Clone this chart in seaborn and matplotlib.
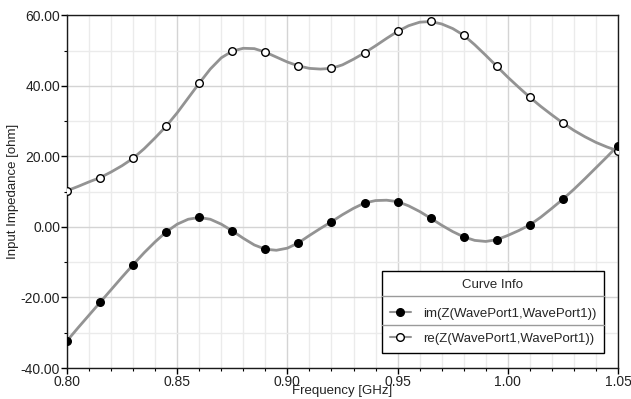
import numpy as np
import pandas as pd
import matplotlib
matplotlib.use("Agg")
import matplotlib.pyplot as plt
from matplotlib.lines import Line2D
from matplotlib.ticker import MultipleLocator, FormatStrFormatter
import seaborn as sns

# frequency sweep (GHz), one point every 0.005
freq = [0.800, 0.805, 0.810, 0.815, 0.820, 0.825, 0.830, 0.835, 0.840, 0.845,
        0.850, 0.855, 0.860, 0.865, 0.870, 0.875, 0.880, 0.885, 0.890, 0.895,
        0.900, 0.905, 0.910, 0.915, 0.920, 0.925, 0.930, 0.935, 0.940, 0.945,
        0.950, 0.955, 0.960, 0.965, 0.970, 0.975, 0.980, 0.985, 0.990, 0.995,
        1.000, 1.005, 1.010, 1.015, 1.020, 1.025, 1.030, 1.035, 1.040, 1.045,
        1.050]

re_z = [10.3, 11.5, 12.8, 14.0, 15.6, 17.4, 19.5, 22.2, 25.3, 28.6,
        32.4, 36.6, 40.8, 44.8, 48.0, 49.9, 50.7, 50.6, 49.6, 48.2,
        46.8, 45.7, 45.0, 44.8, 45.0, 46.0, 47.6, 49.4, 51.4, 53.5,
        55.5, 57.1, 58.1, 58.3, 57.6, 56.3, 54.4, 51.7, 48.7, 45.6,
        42.5, 39.6, 36.8, 34.2, 31.8, 29.5, 27.4, 25.6, 24.0, 22.7,
        21.6]

im_z = [-32.3, -28.6, -25.0, -21.4, -17.8, -14.2, -10.7, -7.3, -4.2, -1.4,
        0.8, 2.2, 2.7, 2.2, 0.8, -1.1, -3.2, -5.1, -6.3, -6.6,
        -6.0, -4.5, -2.4, -0.4, 1.5, 3.5, 5.3, 6.8, 7.5, 7.6,
        7.2, 6.0, 4.4, 2.5, 0.5, -1.3, -2.8, -3.8, -4.1, -3.6,
        -2.4, -1.0, 0.6, 2.8, 5.3, 7.9, 10.7, 13.7, 16.8, 19.9,
        23.1]

# sweep points that carry a marker (every 0.015 GHz up to 1.025, plus the last point)
marker_idx = list(range(0, 46, 3)) + [50]

im_label = "im(Z(WavePort1,WavePort1))"
re_label = "re(Z(WavePort1,WavePort1))"

df = pd.DataFrame({"freq": freq, "re": re_z, "im": im_z})
dm = df.iloc[marker_idx]

sns.set_style("white")
plt.rcParams["font.family"] = ["Liberation Sans", "DejaVu Sans"]

fig = plt.figure(figsize=(6.31, 3.99), dpi=100)
ax = fig.add_axes([67 / 631, 1 - 368 / 399, 551 / 631, 352.5 / 399])

line_col = "#939393"
sns.lineplot(data=df, x="freq", y="re", ax=ax, color=line_col, linewidth=2, zorder=3)
sns.lineplot(data=df, x="freq", y="im", ax=ax, color=line_col, linewidth=2, zorder=3)
sns.scatterplot(data=dm, x="freq", y="re", ax=ax, s=30, color="white",
                edgecolor="black", linewidth=1, zorder=4)
sns.scatterplot(data=dm, x="freq", y="im", ax=ax, s=30, color="black",
                edgecolor="black", linewidth=1, zorder=5)

ax.set_xlim(0.80, 1.05)
ax.set_ylim(-40, 60)
ax.xaxis.set_major_locator(MultipleLocator(0.05))
ax.xaxis.set_minor_locator(MultipleLocator(0.01))
ax.yaxis.set_major_locator(MultipleLocator(20))
ax.yaxis.set_minor_locator(MultipleLocator(10))
ax.xaxis.set_major_formatter(FormatStrFormatter("%.2f"))
ax.yaxis.set_major_formatter(FormatStrFormatter("%.2f"))

ax.grid(which="major", color="#d4d4d4", linewidth=1, zorder=0)
ax.grid(which="minor", color="#ebebeb", linewidth=1, zorder=0)
ax.set_axisbelow(True)

ax.tick_params(which="major", direction="out", length=4, width=1,
               color="black", labelsize=10, pad=1, labelcolor="#222222")
ax.tick_params(which="minor", direction="out", length=2.5, width=0.8, color="black")
ax.tick_params(axis="y", which="both", left=True)
ax.tick_params(axis="x", which="both", bottom=True)

for side in ["left", "bottom", "top", "right"]:
    ax.spines[side].set_color("#1a1a1a")
    ax.spines[side].set_linewidth(1)

ax.set_xlabel("Frequency [GHz]", fontsize=9.5, labelpad=-2.5, color="#222222")
ax.set_ylabel("Input Impedance [ohm]", fontsize=9.5, labelpad=1, color="#222222")

handles = [
    Line2D([], [], color=line_col, linewidth=1.5, marker="o", markersize=5.5,
           markerfacecolor="black", markeredgecolor="black"),
    Line2D([], [], color=line_col, linewidth=1.5, marker="o", markersize=5.5,
           markerfacecolor="white", markeredgecolor="black"),
]
leg = ax.legend(handles, [im_label, re_label], title="Curve Info",
                loc="lower left", mode="expand",
                bbox_to_anchor=(382 / 631, 1 - 353 / 399, 222 / 631, 86 / 399),
                bbox_transform=fig.transFigure,
                fontsize=9.5, title_fontsize=9.5, fancybox=False,
                framealpha=1, edgecolor="black", borderpad=0.6,
                labelspacing=1.0, handlelength=1.6, handletextpad=0.9,
                borderaxespad=0)
leg.get_frame().set_linewidth(1)
leg._legend_box.sep = 12

# separators between the legend title and rows
for yy in [296, 325]:
    fig.add_artist(Line2D([382 / 631, 604 / 631], [1 - yy / 399, 1 - yy / 399],
                          color="#9a9a9a", linewidth=1, transform=fig.transFigure,
                          zorder=10))

fig.savefig("out.png", dpi=100)
